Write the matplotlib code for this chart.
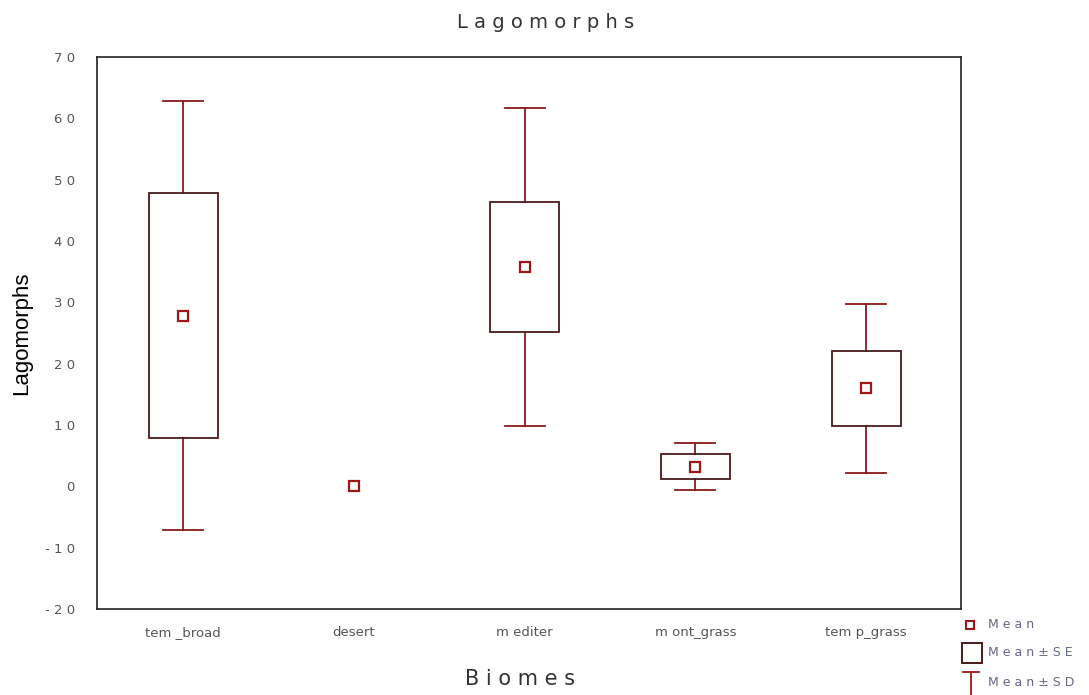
import matplotlib
matplotlib.use("Agg")
import matplotlib.pyplot as plt
from matplotlib.patches import Rectangle
import numpy as np

categories = ["tem _broad", "desert", "m editer", "m ont_grass", "tem p_grass"]
means = [27.8, 0.1, 35.8, 3.2, 16.0]
se = [20.0, 0.0, 10.6, 2.0, 6.1]
sd = [35.0, 0.0, 25.9, 3.8, 13.8]
yticks = [-20, -10, 0, 10, 20, 30, 40, 50, 60, 70]
ytick_labels = ["- 2 0", "- 1 0", "0", "1 0", "2 0", "3 0", "4 0", "5 0", "6 0", "7 0"]

whisk_col = "#8b1a1a"
box_col = "#4a1a1a"
mean_col = "#a01515"
txt_col = "#555555"

fig = plt.figure(figsize=(10.89, 6.95), dpi=100)
ax = fig.add_axes([97/1089, 1-609/695, 864/1089, 552/695])
x = np.arange(1, len(categories)+1)
bw = 0.404
cw = 0.234
for xi, m, s, d in zip(x, means, se, sd):
    if d > 0:
        ax.plot([xi, xi], [m+s, m+d], color=whisk_col, lw=1.3, zorder=2)
        ax.plot([xi, xi], [m-s, m-d], color=whisk_col, lw=1.3, zorder=2)
        ax.plot([xi-cw/2, xi+cw/2], [m+d, m+d], color=whisk_col, lw=1.3, zorder=2)
        ax.plot([xi-cw/2, xi+cw/2], [m-d, m-d], color=whisk_col, lw=1.3, zorder=2)
    if s > 0:
        ax.add_patch(Rectangle((xi-bw/2, m-s), bw, 2*s, fill=False, ec=box_col, lw=1.3, zorder=3))
ax.plot(x, means, ls="none", marker="s", ms=6.5, mfc="white", mec=mean_col, mew=1.6, zorder=4)

ax.set_xlim(0.496, 5.556)
ax.set_ylim(-20, 70)
ax.set_yticks(yticks)
ax.set_yticklabels(ytick_labels)
ax.set_xticks(x)
ax.set_xticklabels(categories)
ax.tick_params(length=0, labelsize=9.5, labelcolor=txt_col)
ax.tick_params(axis="y", pad=16)
ax.tick_params(axis="x", pad=12)
for sp in ax.spines.values():
    sp.set_color("#222222")
    sp.set_linewidth(1.2)

fig.text(546/1089, 1-22/695, "L a g o m o r p h s", ha="center", va="center", fontsize=14, color="#333333")
fig.text(22/1089, 1-333/695, "Lagomorphs", rotation=90, ha="center", va="center", fontsize=16, color="black", family="Liberation Sans")
fig.text(520/1089, 1-679/695, "B i o m e s", ha="center", va="center", fontsize=15, color="#333333")

# legend drawn in figure pixel coordinates
lax = fig.add_axes([0, 0, 1, 1], facecolor="none")
lax.set_xlim(0, 1089)
lax.set_ylim(695, 0)
lax.axis("off")
lax.plot([970], [625], marker="s", ms=6, mfc="white", mec=mean_col, mew=1.5)
lax.add_patch(Rectangle((962, 643), 20, 20, fill=False, ec=box_col, lw=1.4))
lax.plot([971, 971], [672, 695], color=mean_col, lw=1.3)
lax.plot([963, 979], [672, 672], color=mean_col, lw=1.3)
lax.text(988, 625, "M e a n", va="center", fontsize=9, color="#666688")
lax.text(988, 653, "M e a n ± S E", va="center", fontsize=9, color="#666688")
lax.text(988, 683, "M e a n ± S D", va="center", fontsize=9, color="#666688")

fig.savefig("out.png", dpi=100)
